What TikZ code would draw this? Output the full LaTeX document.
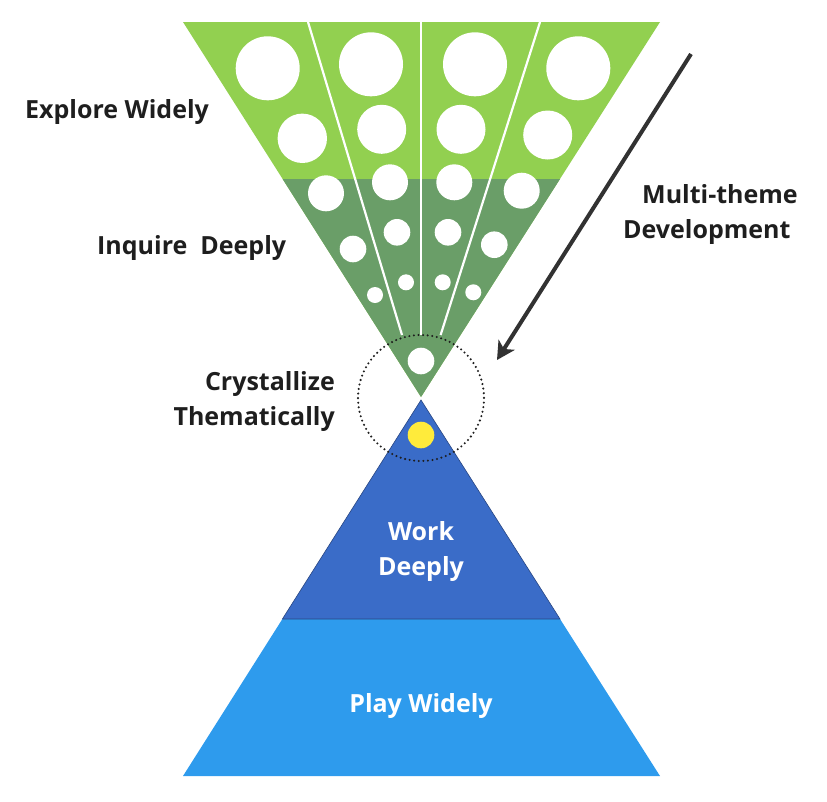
\documentclass[tikz,border=0pt]{standalone}
\usepackage{fontspec}
\setmainfont{Open Sans}
\usetikzlibrary{arrows.meta}
\definecolor{lgreen}{RGB}{146,208,80}
\definecolor{dgreen}{RGB}{106,158,104}
\definecolor{dblue}{RGB}{58,108,200}
\definecolor{dblueedge}{RGB}{40,70,130}
\definecolor{lblue}{RGB}{46,155,237}
\definecolor{sun}{RGB}{255,235,59}
\definecolor{ink}{RGB}{30,30,30}
\definecolor{arrowgray}{RGB}{50,50,50}
\tikzset{
  hole/.style={fill=white},
  divider/.style={draw=white, line width=2.2pt},
  lbl/.style={font=\fontsize{25}{30}\selectfont\bfseries, text=ink, inner sep=0pt},
  wlbl/.style={font=\fontsize{25}{30}\selectfont\bfseries, text=white, inner sep=0pt},
}
\begin{document}
\begin{tikzpicture}[x=1pt,y=-1pt]
\useasboundingbox (0,0) rectangle (827,801);
% funnel
\fill[lgreen] (183,22) -- (660,22) -- (421,397) -- cycle;
\fill[dgreen] (282.6,179) -- (560,179) -- (421,397) -- cycle;
% dividers
\coordinate (t1) at (308,22); \coordinate (b1) at (402,335);
\coordinate (t2) at (421,22); \coordinate (b2) at (421,335);
\coordinate (t3) at (540,22); \coordinate (b3) at (440.6,335);
\draw[divider] (t1) -- (b1);
\draw[divider] (t2) -- (b2);
\draw[divider] (t3) -- (b3);
% holes
\foreach \x/\y/\r in {267.7/68.3/32, 371/64.3/32, 475/64.3/32, 578.3/68.3/32,
  302.3/138.3/24.7, 381.7/129.3/24.5, 461/129.3/24.5, 547.7/135/24.5,
  326/193.3/18, 390/182.3/18, 454.3/182.3/18, 521.7/190.7/18,
  353/249/13.3, 397/232.3/13.3, 448/232.3/13.3, 494.3/244.7/13.3,
  375/295/8, 406/282.3/8, 442.7/282.3/8, 473.3/292.3/8,
  421/361/13.3}
  \fill[hole] (\x,\y) circle (\r);
% pyramid
\fill[lblue] (282.4,619) -- (560,619) -- (660,776) -- (183,776) -- cycle;
\filldraw[fill=dblue, draw=dblueedge, line width=0.6pt] (421,400) -- (282.4,619) -- (560,619) -- cycle;
\fill[sun] (421,435) circle (13.3);
% dotted focus circle
\draw[ink, line width=2.3pt, line cap=round, dash pattern=on 0pt off 4.6pt] (421,398) circle (63);
% arrow
\coordinate (as) at (691,54);
\coordinate (ae) at (497,360);
\draw[arrowgray, line width=4pt, -{Stealth[length=18pt, width=19pt, inset=5pt]}] (as) -- (ae);
% labels
\node[lbl, anchor=base west] (explore) at (25,118.5) {Explore Widely};
\node[lbl, anchor=base west] (inquire) at (97,254) {Inquire\ \ Deeply};
\node[lbl, anchor=base east] (cryst) at (335,390.5) {Crystallize};
\node[lbl, anchor=base east] (them) at (335,425.5) {Thematically};
\node[lbl, anchor=base west] (multi) at (642,203) {Multi-theme};
\node[lbl, anchor=base west] (devel) at (623,238.5) {Development};
\node[wlbl, anchor=base] (work) at (421,540) {Work};
\node[wlbl, anchor=base] (deeply) at (421,575.5) {Deeply};
\node[wlbl, anchor=base] (play) at (421,712.5) {Play Widely};
\end{tikzpicture}
\end{document}
